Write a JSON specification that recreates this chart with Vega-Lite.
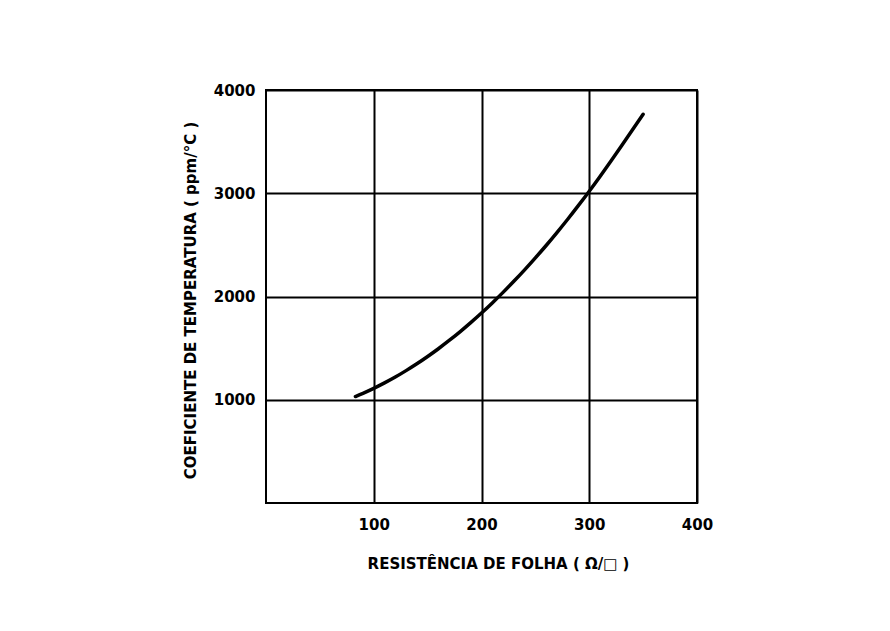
{
  "$schema": "https://vega.github.io/schema/vega-lite/v6.json",
  "width": 431,
  "height": 413,
  "autosize": {"type": "none"},
  "padding": {"left": 266, "top": 90, "right": 193, "bottom": 128},
  "background": "white",
  "data": {
    "values": [
      {"r": 83, "c": 1031},
      {"r": 90, "c": 1062},
      {"r": 100, "c": 1110},
      {"r": 110, "c": 1163},
      {"r": 120, "c": 1220},
      {"r": 130, "c": 1282},
      {"r": 140, "c": 1348},
      {"r": 150, "c": 1419},
      {"r": 160, "c": 1494},
      {"r": 170, "c": 1574},
      {"r": 180, "c": 1658},
      {"r": 190, "c": 1747},
      {"r": 200, "c": 1840},
      {"r": 210, "c": 1938},
      {"r": 220, "c": 2040},
      {"r": 230, "c": 2147},
      {"r": 240, "c": 2258},
      {"r": 250, "c": 2374},
      {"r": 260, "c": 2494},
      {"r": 270, "c": 2619},
      {"r": 280, "c": 2748},
      {"r": 290, "c": 2882},
      {"r": 300, "c": 3020},
      {"r": 310, "c": 3163},
      {"r": 320, "c": 3310},
      {"r": 330, "c": 3460},
      {"r": 340, "c": 3612},
      {"r": 350, "c": 3765}
    ]
  },
  "mark": {"type": "line", "color": "black", "strokeWidth": 3.5, "interpolate": "monotone", "strokeCap": "round"},
  "encoding": {
    "x": {
      "field": "r",
      "type": "quantitative",
      "scale": {"domain": [0, 400], "nice": false, "zero": false},
      "axis": {
        "values": [100, 200, 300, 400],
        "format": "d",
        "grid": true,
        "gridColor": "black",
        "gridWidth": 2,
        "gridOpacity": 1,
        "domain": false,
        "ticks": false,
        "labelFont": "DejaVu Sans",
        "labelFontWeight": "bold",
        "labelFontSize": 15,
        "labelColor": "black",
        "labelPadding": 14,
        "labelFlush": false,
        "labelOverlap": false,
        "title": "RESISTÊNCIA DE FOLHA ( Ω/□ )",
        "titleFont": "DejaVu Sans",
        "titleFontWeight": "bold",
        "titleFontSize": 15,
        "titleColor": "black",
        "titleX": 232,
        "titleY": 65,
        "titleAlign": "center",
        "titleBaseline": "alphabetic"
      }
    },
    "y": {
      "field": "c",
      "type": "quantitative",
      "scale": {"domain": [0, 4000], "nice": false},
      "axis": {
        "values": [1000, 2000, 3000, 4000],
        "format": "d",
        "grid": true,
        "gridColor": "black",
        "gridWidth": 2,
        "gridOpacity": 1,
        "domain": false,
        "ticks": false,
        "labelFont": "DejaVu Sans",
        "labelFontWeight": "bold",
        "labelFontSize": 15,
        "labelColor": "black",
        "labelPadding": 11,
        "labelFlush": false,
        "labelOverlap": false,
        "title": "COEFICIENTE DE TEMPERATURA ( ppm/°C )",
        "titleFont": "DejaVu Sans",
        "titleFontWeight": "bold",
        "titleFontSize": 15,
        "titleColor": "black",
        "titleAngle": -90,
        "titleX": -76,
        "titleY": 210,
        "titleAlign": "center",
        "titleBaseline": "middle"
      }
    }
  },
  "config": {
    "view": {"stroke": "black", "strokeWidth": 2}
  }
}
